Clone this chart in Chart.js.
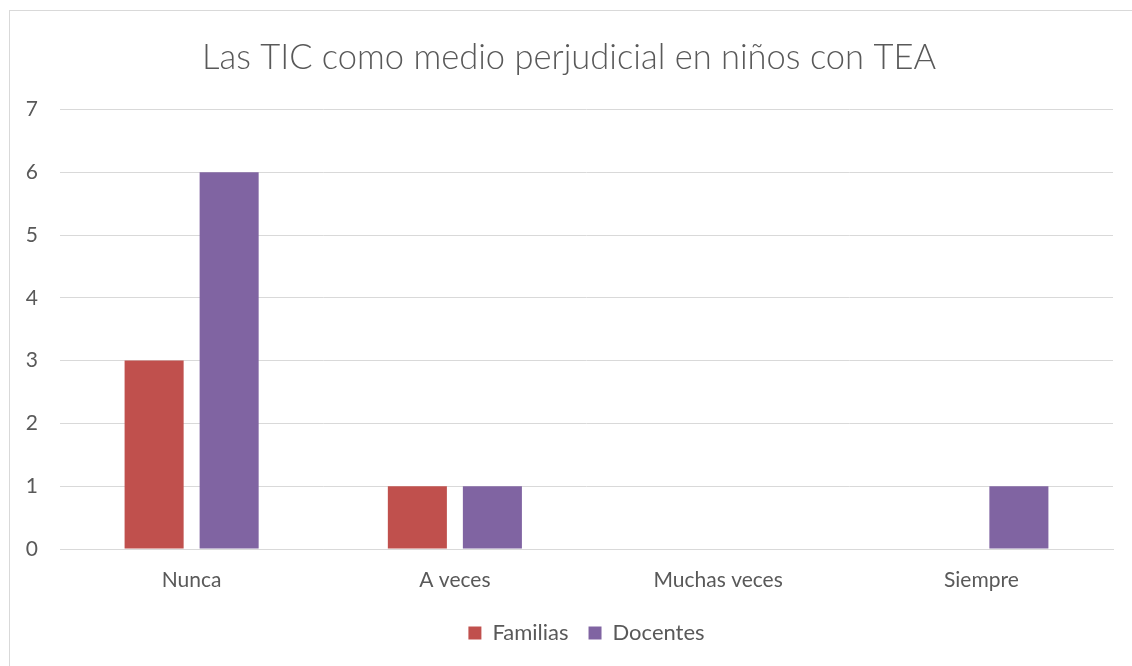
<!DOCTYPE html>
<html>
<head>
<meta charset="utf-8">
<script src="https://cdn.jsdelivr.net/npm/chart.js@4"></script>
<style>
  html, body { margin: 0; padding: 0; background: #fff; overflow: hidden; }
  #frame { position: absolute; left: 9px; top: 10px; width: 1200px; height: 700px; border: 1px solid #d9d9d9; }
  #wrap { position: absolute; left: 0; top: 0; width: 1132px; height: 666px; }
</style>
</head>
<body>
<div id="frame"></div>
<div id="wrap"><canvas id="chart" width="1132" height="666"></canvas></div>
<script>
// ---- chart data ----
const TITLE      = "Las TIC como medio perjudicial en niños con TEA";
const CATEGORIES = ["Nunca", "A veces", "Muchas veces", "Siempre"];
const FAMILIAS   = [3, 1, 0, 0];
const DOCENTES   = [6, 1, 0, 1];
const Y_MAX      = 7;

const TEXT = "#595959";
const GRID = "#d9d9d9";
const FONT = "Lato, 'Open Sans', sans-serif";

new Chart(document.getElementById("chart"), {
  type: "bar",
  data: {
    labels: CATEGORIES,
    datasets: [
      { label: "Familias", data: FAMILIAS, backgroundColor: "#C0504D" },
      { label: "Docentes", data: DOCENTES, backgroundColor: "#8064A2" }
    ]
  },
  options: {
    responsive: false,
    animation: false,
    categoryPercentage: 0.57,
    barPercentage: 0.787,
    // small left padding nudges the title centre right (y labels must stay inside the axis box)
    layout: { padding: { left: 25, right: 19, top: 0, bottom: 12 } },
    plugins: {
      title: {
        display: true, text: TITLE, color: TEXT,
        font: { family: FONT, size: 34.5, weight: 300 },
        padding: { top: 37, bottom: 31 }
      },
      legend: {
        position: "bottom",
        fullSize: false,
        labels: { color: TEXT, font: { family: FONT, size: 22 }, boxWidth: 13, boxHeight: 13, padding: 20 }
      },
      tooltip: { enabled: false }
    },
    scales: {
      x: {
        grid: { display: false, drawTicks: false },
        border: { color: GRID },
        ticks: { color: TEXT, font: { family: FONT, size: 21 }, padding: 19 },
        afterFit: s => { s.height = 53; }
      },
      y: {
        min: 0, max: Y_MAX,
        grid: { color: GRID, drawTicks: false },
        border: { display: false },
        ticks: { stepSize: 1, color: TEXT, font: { family: FONT, size: 21 }, padding: 22 },
        afterFit: s => { s.width = 35; }
      }
    }
  }
});
</script>
</body>
</html>
